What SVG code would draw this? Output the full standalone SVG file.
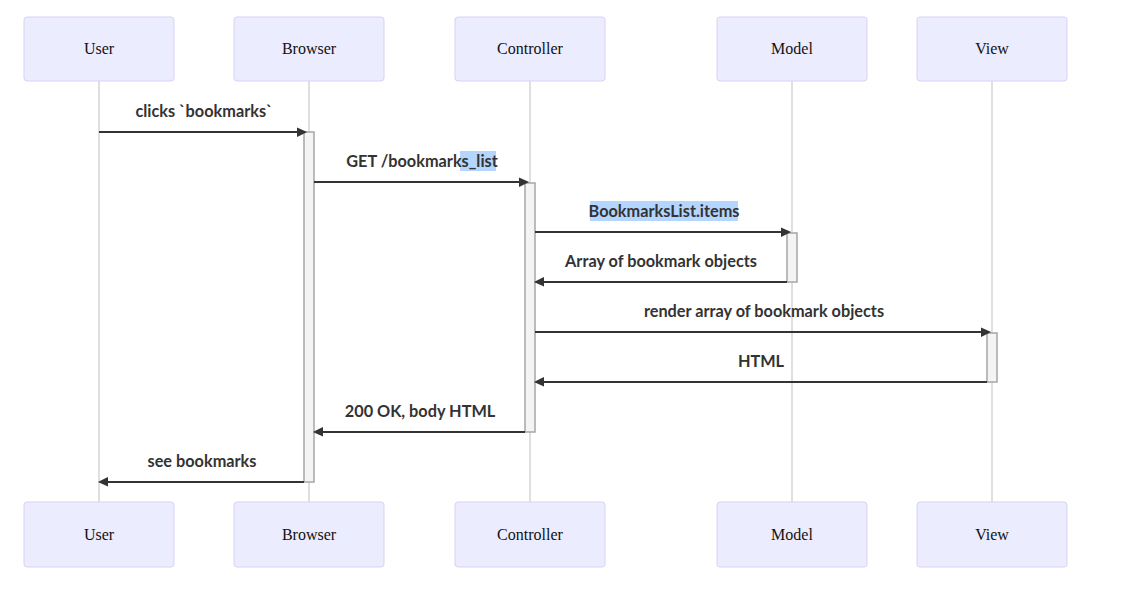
<svg xmlns="http://www.w3.org/2000/svg" width="1126" height="616" viewBox="0 0 1126 616">
<defs>
<style>
.actor rect{fill:#ECECFF;stroke:#DAD0F3;stroke-width:1}
.actor text{font-family:"Liberation Serif","Times New Roman",serif;font-size:16px;fill:#111;text-anchor:middle}
.life{stroke:#dcdcdc;stroke-width:1.8}
.act{fill:#f4f4f4;stroke:#a6a6a6;stroke-width:1.5}
.msg{stroke:#333;stroke-width:2;fill:none;marker-end:url(#arrowhead)}
.lbl{font-family:Lato,"Open Sans",sans-serif;font-weight:bold;font-size:16.3px;fill:#333;text-anchor:middle}
.hl{fill:#B4D5FE}
</style>
<marker id="arrowhead" refX="7.9" refY="5" markerUnits="userSpaceOnUse" markerWidth="12" markerHeight="12" orient="auto">
<path d="M -1 0 L 10 5 L 0 10 z" fill="#333"/>
</marker>
</defs>
<rect width="1126" height="616" fill="#fff"/>
<g id="lifelines">
<line class="life" x1="99" y1="81" x2="99" y2="502"/>
<line class="life" x1="309" y1="81" x2="309" y2="502"/>
<line class="life" x1="530" y1="81" x2="530" y2="502"/>
<line class="life" x1="792" y1="81" x2="792" y2="502"/>
<line class="life" x1="992" y1="81" x2="992" y2="502"/>
</g>
<g id="actor-user" class="actor">
<rect x="24" y="17" width="150" height="64" rx="3"/><text x="99" y="54">User</text>
<rect x="24" y="502" width="150" height="65" rx="3"/><text x="99" y="539.5">User</text>
</g>
<g id="actor-browser" class="actor">
<rect x="234" y="17" width="150" height="64" rx="3"/><text x="309" y="54">Browser</text>
<rect x="234" y="502" width="150" height="65" rx="3"/><text x="309" y="539.5">Browser</text>
</g>
<g id="actor-controller" class="actor">
<rect x="455" y="17" width="150" height="64" rx="3"/><text x="530" y="54">Controller</text>
<rect x="455" y="502" width="150" height="65" rx="3"/><text x="530" y="539.5">Controller</text>
</g>
<g id="actor-model" class="actor">
<rect x="717" y="17" width="150" height="64" rx="3"/><text x="792" y="54">Model</text>
<rect x="717" y="502" width="150" height="65" rx="3"/><text x="792" y="539.5">Model</text>
</g>
<g id="actor-view" class="actor">
<rect x="917" y="17" width="150" height="64" rx="3"/><text x="992" y="54">View</text>
<rect x="917" y="502" width="150" height="65" rx="3"/><text x="992" y="539.5">View</text>
</g>
<g id="activations">
<rect class="act" x="304" y="132" width="10" height="350"/>
<rect class="act" x="525" y="183" width="10" height="249"/>
<rect class="act" x="787" y="233" width="10" height="49"/>
<rect class="act" x="987" y="333" width="10" height="49"/>
</g>
<g id="highlights">
<rect class="hl" x="460" y="151" width="36" height="20"/>
<rect class="hl" x="590" y="201" width="148" height="20"/>
</g>
<g id="connectors">
<line class="msg" x1="99" y1="132" x2="305" y2="132"/>
<line class="msg" x1="314" y1="182" x2="527" y2="182"/>
<line class="msg" x1="535" y1="232" x2="789" y2="232"/>
<line class="msg" x1="787" y1="282" x2="536" y2="282"/>
<line class="msg" x1="535" y1="332" x2="989" y2="332"/>
<line class="msg" x1="987" y1="382" x2="536" y2="382"/>
<line class="msg" x1="525" y1="432" x2="315" y2="432"/>
<line class="msg" x1="304" y1="482" x2="100" y2="482"/>
</g>
<g id="labels">
<text class="lbl" x="204" y="117">clicks `bookmarks`</text>
<text class="lbl" x="422" y="167">GET /bookmarks_list</text>
<text class="lbl" x="664" y="217">BookmarksList.items</text>
<text class="lbl" x="661" y="267">Array of bookmark objects</text>
<text class="lbl" x="764" y="317">render array of bookmark objects</text>
<text class="lbl" x="761" y="367">HTML</text>
<text class="lbl" x="420" y="417">200 OK, body HTML</text>
<text class="lbl" x="202" y="467">see bookmarks</text>
</g>
</svg>
